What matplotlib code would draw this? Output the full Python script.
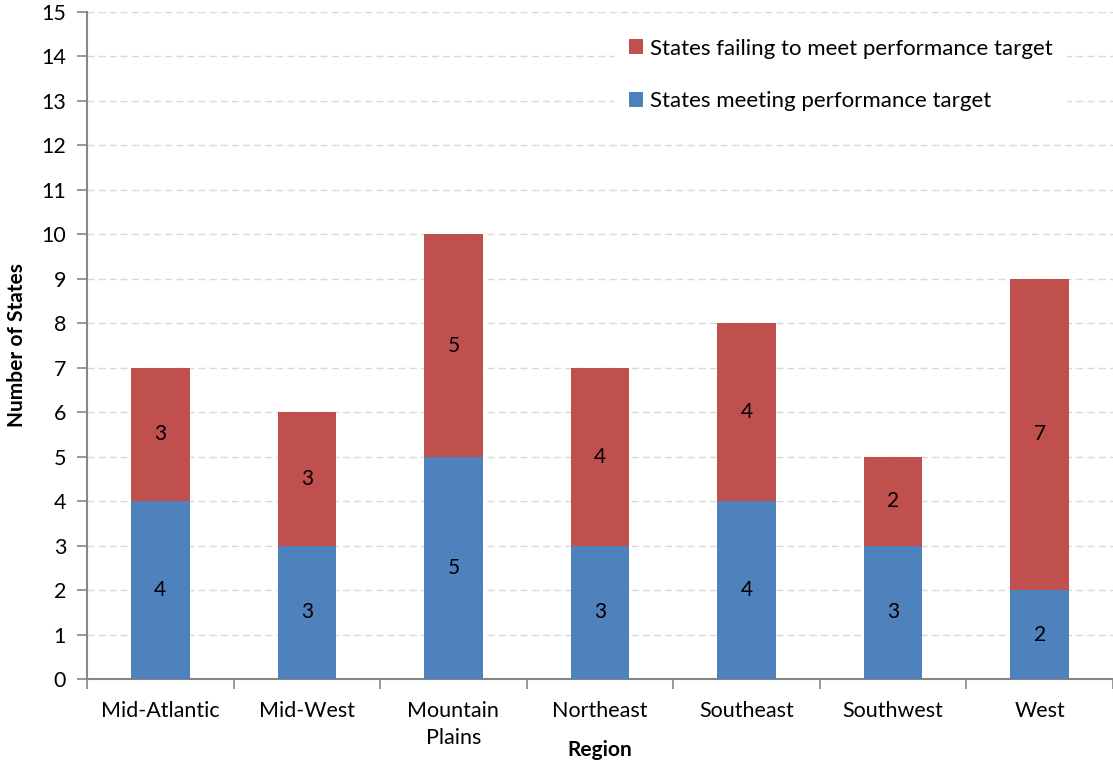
import matplotlib.pyplot as plt
import numpy as np

regions = ["Mid-Atlantic", "Mid-West", "Mountain\nPlains", "Northeast",
           "Southeast", "Southwest", "West"]
meeting = [4, 3, 5, 3, 4, 3, 2]
failing = [3, 3, 5, 4, 4, 2, 7]

blue = "#4F81BD"
red = "#C0504D"
grey = "#868686"

plt.rcParams["font.family"] = ["Lato", "DejaVu Sans"]

fig = plt.figure(figsize=(11.13, 7.61), dpi=100)
ax = fig.add_axes([87/1113, 1 - 679/761, 1 - 87/1113, (679 - 12)/761])

x = np.arange(len(regions))
b1 = ax.bar(x, meeting, width=0.4, color=blue, label="States meeting performance target", zorder=3)
b2 = ax.bar(x, failing, width=0.4, bottom=meeting, color=red,
            label="States failing to meet performance target", zorder=3)

for i in range(len(regions)):
    ax.text(x[i], meeting[i] / 2, str(meeting[i]), ha="center", va="center", fontsize=15, zorder=4)
    ax.text(x[i], meeting[i] + failing[i] / 2, str(failing[i]), ha="center", va="center",
            fontsize=15, zorder=4)

ax.set_xlim(-0.5, len(regions) - 0.5)
ax.set_ylim(0, 15)
ax.set_yticks(range(0, 16))
ax.set_xticks(x)
ax.set_xticklabels(regions, linespacing=1.45)
ax.set_xticks(np.arange(-0.5, len(regions)), minor=True)
ax.tick_params(axis="x", which="major", length=0, pad=16, labelsize=15.5)
ax.tick_params(axis="x", which="minor", length=7, color=grey, width=1.2)
ax.tick_params(axis="y", length=7, color=grey, width=1.2, labelsize=15.5, pad=8)

ax.yaxis.grid(True, linestyle=(0, (5, 3)), color="#D9D9D9", linewidth=1, zorder=0)
for s in ["top", "right"]:
    ax.spines[s].set_visible(False)
for s in ["left", "bottom"]:
    ax.spines[s].set_color(grey)
    ax.spines[s].set_linewidth(1.5)

ax.set_ylabel("Number of States", fontsize=15, fontweight="bold", labelpad=10)
ax.set_xlabel("Region", fontsize=15, fontweight="bold", labelpad=-6)

leg = ax.legend(handles=[b2, b1], loc="upper left", bbox_to_anchor=(0.515, 0.98),
                frameon=True, fontsize=16, labelspacing=1.45, handlelength=0.65,
                handleheight=0.65, handletextpad=0.3, borderaxespad=0, borderpad=0.6)
leg.get_frame().set_edgecolor("white")
leg.get_frame().set_facecolor("white")
leg.get_frame().set_alpha(1)
leg.set_zorder(5)

fig.savefig("out.png", dpi=100)
